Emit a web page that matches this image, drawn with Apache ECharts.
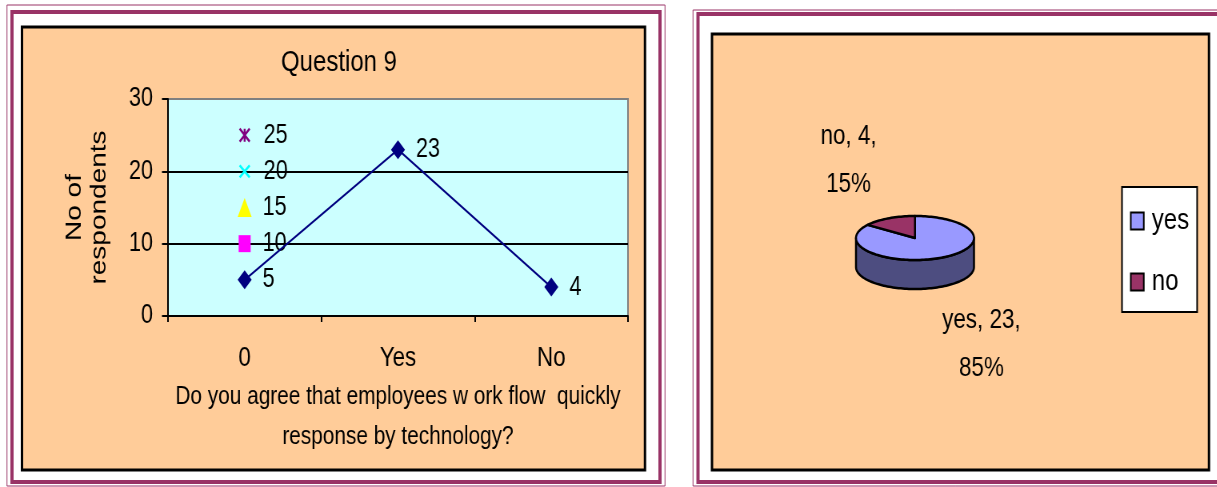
<!DOCTYPE html>
<html>
<head>
<meta charset="utf-8">
<script src="https://cdn.jsdelivr.net/npm/echarts@6/dist/echarts.min.js"></script>
<style>
html,body{margin:0;padding:0;background:#fff;overflow:hidden;width:1217px;height:487px;}
#c{height:487px;transform-origin:0 0;}
</style>
</head>
<body>
<div id="c"></div>
<script>
// ---- data ----
const categories = ['0', 'Yes', 'No'];
const mainValues = [5, 23, 4];
const squareValues = [10, null, null];
const triangleValues = [15, null, null];
const crossValues = [20, null, null];
const starValues = [25, null, null];
const yTicks = [0, 10, 20, 30];
const pieNames = ['yes', 'no'];
const pieValues = [23, 4];

const titleText = 'Question 9';
const xName = 'Do you agree that employees w ork flow  quickly\nresponse by technology?';
const yName = 'No of\nrespondents';

// ---- styles / layout ----
// The reference is horizontally condensed; draw wider, then condense with CSS.
const S = 0.8;
function sx(v) { return v / S; }
const el = document.getElementById('c');
el.style.width = sx(1217) + 'px';
el.style.transform = 'scaleX(' + S + ')';

const FONT = '"Liberation Sans",Arial,sans-serif';
const pieColors = ['#9999FF', '#993366'];
const pieSideColors = ['#4D4D80', '#4D1A33'];
const PIE = {cx: sx(915), cy: 238, rx: sx(59), ry: 22, depth: 29, lx: sx(148), ly: 87};

function pairs(arr) {
  return categories.map((c, i) => [c, arr[i]]).filter(d => d[1] != null);
}
function ell(t, dy) {
  return [PIE.cx + PIE.rx * Math.sin(t), PIE.cy - PIE.ry * Math.cos(t) + (dy || 0)];
}
function arcPts(a, b, dy) {
  const pts = [];
  const n = Math.max(2, Math.ceil((b - a) / (Math.PI / 90)));
  for (let k = 0; k <= n; k++) pts.push(ell(a + (b - a) * k / n, dy));
  return pts;
}
function renderSlice(params, api) {
  const i = api.value(0);
  const v = api.value(1);
  const total = pieValues.reduce((s, x) => s + x, 0);
  let start = 0;
  for (let k = 0; k < i; k++) start += pieValues[k];
  const a0 = start / total * Math.PI * 2;
  const a1 = (start + v) / total * Math.PI * 2;
  const children = [];
  const sa = Math.max(a0, Math.PI / 2), sb = Math.min(a1, Math.PI * 1.5);
  if (sa < sb) {
    const top = arcPts(sa, sb, 0);
    const bot = arcPts(sa, sb, PIE.depth).reverse();
    children.push({type: 'polygon', shape: {points: top.concat(bot)},
      style: {fill: pieSideColors[i], stroke: '#000', lineWidth: 2.5, lineJoin: 'round'}});
  }
  const topPts = [[PIE.cx, PIE.cy]].concat(arcPts(a0, a1, 0));
  children.push({type: 'polygon', shape: {points: topPts},
    style: {fill: pieColors[i], stroke: '#000', lineWidth: 2.5, lineJoin: 'round'}});
  const mid = (a0 + a1) / 2;
  const lx = PIE.cx + PIE.lx * Math.sin(mid);
  const ly = PIE.cy - PIE.ly * Math.cos(mid) + (Math.cos(mid) < 0 ? PIE.depth : 0);
  const pct = Math.round(v / total * 100);
  children.push({type: 'text', style: {
    text: pieNames[i] + ', ' + v + ',\n' + pct + '%', x: lx, y: ly,
    align: 'center', verticalAlign: 'middle', fill: '#000',
    fontSize: 28, fontFamily: FONT, lineHeight: 48}});
  return {type: 'group', children: children};
}

const labelBase = {show: true, position: 'right', color: '#000', fontSize: 27, fontFamily: FONT};

const chart = echarts.init(el, null, {renderer: 'canvas'});
chart.setOption({
  animation: false,
  backgroundColor: '#fff',
  graphic: [
    {type: 'rect', z: -10, shape: {x: sx(7), y: 5, width: sx(658), height: 481}, style: {fill: 'none', stroke: '#993366', lineWidth: 1}},
    {type: 'rect', z: -10, shape: {x: sx(12), y: 12, width: sx(648), height: 470}, style: {fill: '#fff', stroke: '#993366', lineWidth: 4}},
    {type: 'rect', z: -9, shape: {x: sx(22), y: 27, width: sx(623), height: 443}, style: {fill: '#FFCC99', stroke: '#000', lineWidth: 3}},
    {type: 'rect', z: -10, shape: {x: sx(693), y: 10, width: sx(600), height: 476}, style: {fill: 'none', stroke: '#993366', lineWidth: 1}},
    {type: 'rect', z: -10, shape: {x: sx(698), y: 14, width: sx(600), height: 468}, style: {fill: '#fff', stroke: '#993366', lineWidth: 4}},
    {type: 'rect', z: -9, shape: {x: sx(712), y: 34, width: sx(497), height: 436}, style: {fill: '#FFCC99', stroke: '#000', lineWidth: 3}}
  ],
  title: {
    text: titleText, left: sx(335), top: 43, textAlign: 'center',
    textStyle: {fontSize: 30, fontWeight: 'normal', color: '#000', fontFamily: FONT}
  },
  legend: {
    data: pieNames.map((n, i) => ({name: n, icon: 'rect',
      itemStyle: {color: pieColors[i], borderColor: '#000', borderWidth: 2}})),
    orient: 'vertical', left: sx(1122), top: 187,
    itemWidth: sx(13), itemHeight: 17, itemGap: 31,
    padding: [19, sx(8), 15, sx(8)],
    backgroundColor: '#fff', borderColor: '#000', borderWidth: 2,
    selectedMode: false,
    formatter: '{t|{name}}',
    textStyle: {fontSize: 30, color: '#000', fontFamily: FONT,
      rich: {t: {fontSize: 30, color: '#000', fontFamily: FONT, padding: [0, 0, 0, sx(4)]}}}
  },
  grid: {
    left: sx(168), top: 99, width: sx(460), height: 217,
    show: true, backgroundColor: '#CCFFFF', borderColor: '#808080', borderWidth: 2
  },
  xAxis: {
    type: 'category', data: categories, boundaryGap: true,
    axisLine: {lineStyle: {color: '#000', width: 2}},
    axisTick: {show: true, length: 6, lineStyle: {color: '#000', width: 2}},
    axisLabel: {margin: 28, color: '#000', fontSize: 28, fontFamily: FONT},
    name: xName, nameLocation: 'middle', nameGap: 61,
    nameTextStyle: {color: '#000', fontSize: 26, fontFamily: FONT, lineHeight: 40}
  },
  yAxis: {
    type: 'value', min: yTicks[0], max: yTicks[yTicks.length - 1], interval: yTicks[1] - yTicks[0],
    axisLine: {show: true, lineStyle: {color: '#000', width: 2}},
    axisTick: {show: true, length: sx(6), lineStyle: {color: '#000', width: 2}},
    axisLabel: {margin: sx(15), color: '#000', fontSize: 27, fontFamily: FONT},
    splitLine: {show: true, showMinLine: false, showMaxLine: false, lineStyle: {color: '#000', width: 2}},
    name: yName, nameLocation: 'middle', nameRotate: 90, nameGap: sx(56),
    nameTextStyle: {color: '#000', fontSize: 28, fontFamily: FONT, lineHeight: sx(25)}
  },
  series: [
    {type: 'line', name: 'main', data: mainValues, z: 5,
      symbol: 'diamond', symbolSize: [sx(14), 19], showAllSymbol: true,
      lineStyle: {color: '#000080', width: 2}, itemStyle: {color: '#000080'},
      label: Object.assign({}, labelBase, {distance: sx(11)})},
    {type: 'scatter', name: 's10', data: pairs(squareValues), z: 4,
      symbol: 'rect', symbolSize: [sx(12), 17], itemStyle: {color: '#FF00FF', opacity: 1},
      label: Object.assign({}, labelBase, {distance: sx(12)})},
    {type: 'scatter', name: 's15', data: pairs(triangleValues), z: 4,
      symbol: 'triangle', symbolSize: [sx(14), 19], itemStyle: {color: '#FFFF00', opacity: 1},
      label: Object.assign({}, labelBase, {distance: sx(11)})},
    {type: 'scatter', name: 's20', data: pairs(crossValues), z: 4,
      symbol: 'path://M0,0L10,12M10,0L0,12', symbolSize: [sx(10), 12],
      itemStyle: {color: 'rgba(0,0,0,0)', borderColor: '#00FFFF', borderWidth: 2.5, opacity: 1},
      label: Object.assign({}, labelBase, {distance: sx(13)})},
    {type: 'scatter', name: 's25', data: pairs(starValues), z: 4,
      symbol: 'path://M0,0L10,12M10,0L0,12M5,0L5,12', symbolSize: [sx(10), 13],
      itemStyle: {color: 'rgba(0,0,0,0)', borderColor: '#800080', borderWidth: 2.5, opacity: 1},
      label: Object.assign({}, labelBase, {distance: sx(13)})}
  ].concat(pieNames.map((n, i) => ({
    type: 'custom', name: n, coordinateSystem: 'none',
    data: [[i, pieValues[i]]], renderItem: renderSlice, z: 3
  })))
});
</script>
</body>
</html>
